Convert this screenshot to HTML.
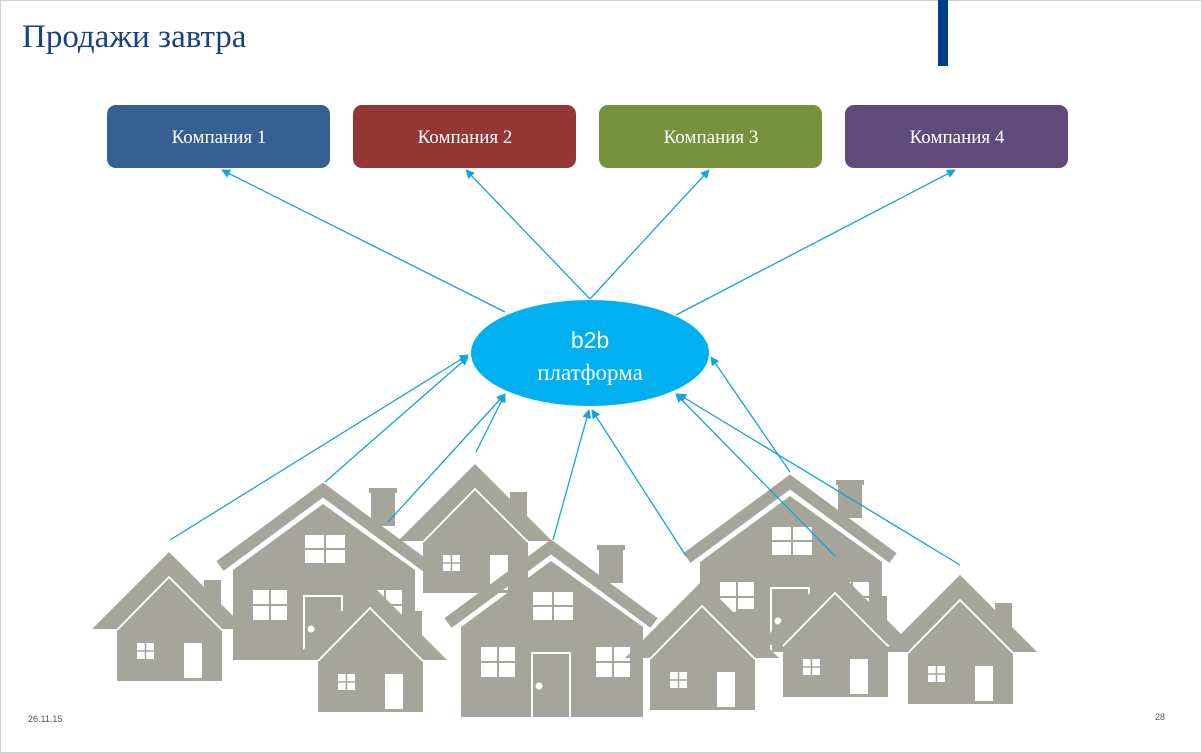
<!DOCTYPE html>
<html><head><meta charset="utf-8"><style>
html,body{margin:0;padding:0;background:#fff}
svg{display:block}
</style></head><body>
<svg width="1202" height="753" viewBox="0 0 1202 753" xmlns="http://www.w3.org/2000/svg">
<defs>
<marker id="ar" viewBox="0 0 10 10" refX="9" refY="5" markerWidth="9" markerHeight="9" markerUnits="userSpaceOnUse" orient="auto"><path d="M0,0 L10,5 L0,10 z" fill="#14a3dc"/></marker>
<g id="small">
 <rect x="35" y="28" width="17" height="30" fill="#a6a59a"/>
 <polygon points="0,0 -77,77 77,77" fill="#a6a59a"/>
 <rect x="-52" y="77" width="105" height="52" fill="#a6a59a"/>
 <polyline points="-52,78 0,25 53,78" fill="none" stroke="#fff" stroke-width="1.8"/>
 <rect x="-32" y="91" width="17" height="16" fill="#fff"/>
 <line x1="-23.5" y1="91" x2="-23.5" y2="107" stroke="#a6a59a" stroke-width="1.5"/>
 <line x1="-32" y1="99" x2="-15" y2="99" stroke="#a6a59a" stroke-width="1.5"/>
 <rect x="15" y="91" width="18" height="35" fill="#fff"/>
</g>
<g id="big">
 <rect x="48" y="8" width="24" height="34" fill="#a6a59a"/>
 <rect x="46" y="4" width="28" height="5" fill="#a6a59a"/>
 <polygon points="0,20 -90,86 -90,176 92,176 92,86" fill="#a6a59a"/>
 <polyline points="-103,82 0,6 103,82" fill="none" stroke="#a6a59a" stroke-width="12"/>
 <g fill="#fff">
  <rect x="-18" y="51" width="19" height="13"/><rect x="3" y="51" width="19" height="13"/>
  <rect x="-18" y="66" width="19" height="13"/><rect x="3" y="66" width="19" height="13"/>
  <rect x="-70" y="106" width="16" height="14"/><rect x="-52" y="106" width="16" height="14"/>
  <rect x="-70" y="122" width="16" height="14"/><rect x="-52" y="122" width="16" height="14"/>
  <rect x="45" y="106" width="16" height="14"/><rect x="63" y="106" width="16" height="14"/>
  <rect x="45" y="122" width="16" height="14"/><rect x="63" y="122" width="16" height="14"/>
 </g>
 <rect x="-19" y="112" width="38" height="66" fill="none" stroke="#fff" stroke-width="2"/>
 <circle cx="-12" cy="145" r="3.5" fill="#fff"/>
</g>
</defs>
<rect x="0.5" y="0.5" width="1201" height="752" fill="#fff" stroke="#d0d0d0"/>
<text x="22" y="47" font-family="Liberation Serif, serif" font-size="33" fill="#1a4282">Продажи завтра</text>
<rect x="938" y="0" width="10" height="66" fill="#003f87"/>

<rect x="107" y="105" width="223" height="63" rx="9" fill="#366092"/>
<rect x="353" y="105" width="223" height="63" rx="9" fill="#943634"/>
<rect x="599" y="105" width="223" height="63" rx="9" fill="#76923c"/>
<rect x="845" y="105" width="223" height="63" rx="9" fill="#604a7b"/>
<g font-family="Liberation Serif, serif" font-size="19" fill="#fff" text-anchor="middle">
<text x="219" y="143">Компания 1</text>
<text x="465" y="143">Компания 2</text>
<text x="711" y="143">Компания 3</text>
<text x="957" y="143">Компания 4</text>
</g>

<use href="#small" x="475" y="464"/>
<use href="#small" x="169" y="552"/>
<use href="#big" x="323" y="484"/>
<use href="#small" x="370" y="583"/>
<use href="#big" x="551" y="541"/>
<use href="#big" x="790" y="476"/>
<use href="#small" x="702" y="581"/>
<use href="#small" x="835" y="568"/>
<use href="#small" x="960" y="575"/>

<ellipse cx="590" cy="353" rx="119" ry="53" fill="#00b0f0"/>
<text x="590" y="348" font-family="Liberation Sans, sans-serif" font-size="23" fill="#fff" text-anchor="middle">b2b</text>
<text x="590" y="380" font-family="Liberation Serif, serif" font-size="23" fill="#fff" text-anchor="middle">платформа</text>

<g stroke="#14a3dc" stroke-width="1.3" fill="none" marker-end="url(#ar)">
<line x1="505" y1="312" x2="222" y2="170"/>
<line x1="590" y1="299" x2="466" y2="170"/>
<line x1="590" y1="299" x2="709" y2="170"/>
<line x1="676" y1="315" x2="955" y2="170"/>
<line x1="170" y1="540" x2="468" y2="355"/>
<line x1="325" y1="482" x2="468" y2="357"/>
<line x1="388" y1="522" x2="505" y2="394"/>
<line x1="476" y1="452" x2="505" y2="394"/>
<line x1="553" y1="540" x2="589" y2="410"/>
<line x1="686" y1="556" x2="592" y2="410"/>
<line x1="790" y1="472" x2="711" y2="357"/>
<line x1="835" y1="556" x2="676" y2="394"/>
<line x1="960" y1="565" x2="678" y2="394"/>
</g>

<text x="28" y="722" font-family="Liberation Sans, sans-serif" font-size="9" fill="#555">26.11.15</text>
<text x="1155" y="720" font-family="Liberation Sans, sans-serif" font-size="9" fill="#555">28</text>
</svg>
</body></html>
